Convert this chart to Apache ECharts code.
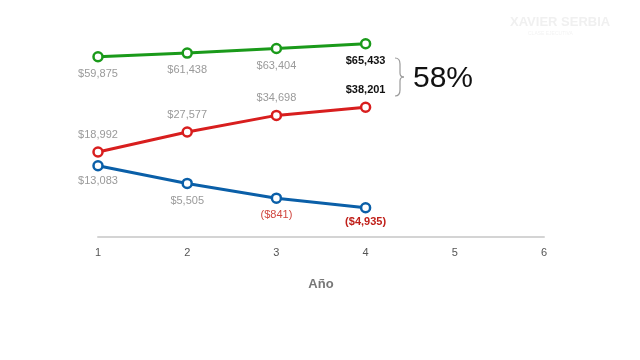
<!DOCTYPE html>
<html><head><meta charset="utf-8">
<script src="https://cdn.jsdelivr.net/npm/echarts@6/dist/echarts.min.js"></script>
<style>html,body{margin:0;padding:0;background:#fff}#c{width:640px;height:360px}</style>
</head><body><div id="c"></div>
<script>
const years = [1, 2, 3, 4];
const xTicks = [1, 2, 3, 4, 5, 6];
const greenVals = [59875, 61438, 63404, 65433];
const redVals = [18992, 27577, 34698, 38201];
const blueVals = [13083, 5505, -841, -4935];
const pctLabel = '58%';
const axisName = 'Año';

function fmt(v){
  const s = '$' + Math.abs(v).toLocaleString('en-US');
  return v < 0 ? '(' + s + ')' : s;
}
const FONT = 'Liberation Sans, Arial, sans-serif';
function mk(vals, pos, offs, last) {
  return vals.map((v, i) => {
    const isLast = i === vals.length - 1;
    let lc = '#9a9a9a', fw = 'normal';
    if (v < 0) lc = '#d0463f';
    if (isLast) { lc = last; fw = 'bold'; }
    return {
      value: [years[i], v],
      label: {show: true, position: pos, distance: offs[i], color: lc, fontWeight: fw,
              fontSize: 11, fontFamily: FONT, formatter: () => fmt(v)}
    };
  });
}
const chart = echarts.init(document.getElementById('c'), null, {renderer: 'canvas'});
function series(name, vals, color, pos, offs, last) {
  return {
    name, type: 'line', data: mk(vals, pos, offs, last),
    symbol: 'circle', symbolSize: 9,
    itemStyle: {color: '#fff', borderColor: color, borderWidth: 2.5},
    lineStyle: {color: color, width: 3},
    z: 3
  };
}
const br = {stroke: '#999', lineWidth: 1.2, fill: null};
chart.setOption({
  animation: false,
  backgroundColor: '#fff',
  grid: {left: 98, right: 96, top: 21.5, bottom: 123},
  xAxis: {
    type: 'value', min: 1, max: 6, interval: 1,
    axisLine: {show: true, onZero: false, lineStyle: {color: '#d4d4d4', width: 2}},
    axisTick: {show: false}, splitLine: {show: false},
    axisLabel: {color: '#555', fontSize: 11, fontFamily: FONT, margin: 10,
                formatter: v => xTicks.includes(v) ? String(v) : ''},
    name: axisName, nameLocation: 'middle', nameGap: 41,
    nameTextStyle: {color: '#777', fontSize: 13, fontWeight: 'bold', fontFamily: FONT}
  },
  yAxis: {
    type: 'value', min: -17500, max: 75000, show: false,
    splitLine: {show: false}
  },
  series: [
    series('green', greenVals, '#1a9a1a', 'bottom', [6, 6, 6, 6], '#111'),
    series('red', redVals, '#d81e1e', 'top', [6, 6, 6, 6], '#111'),
    series('blue', blueVals, '#0a5fa8', 'bottom', [4, 6, 6, 3], '#c0201a')
  ],
  graphic: [
    {type: 'bezierCurve', shape: {x1: 395, y1: 58, cpx1: 400, cpy1: 58, x2: 400, y2: 64}, style: br},
    {type: 'line', shape: {x1: 400, y1: 64, x2: 400, y2: 73}, style: br},
    {type: 'bezierCurve', shape: {x1: 400, y1: 73, cpx1: 400, cpy1: 77, x2: 404, y2: 77}, style: br},
    {type: 'bezierCurve', shape: {x1: 404, y1: 77, cpx1: 400, cpy1: 77, x2: 400, y2: 81}, style: br},
    {type: 'line', shape: {x1: 400, y1: 81, x2: 400, y2: 90}, style: br},
    {type: 'bezierCurve', shape: {x1: 400, y1: 90, cpx1: 400, cpy1: 96, x2: 395, y2: 96}, style: br},
    {type: 'text', left: 413, top: 64, style: {text: pctLabel, fill: '#111', font: '30px ' + FONT}},
    {type: 'text', left: 510, top: 16, style: {text: 'XAVIER SERBIA', fill: '#f0f0f0', font: 'bold 13px ' + FONT}},
    {type: 'text', left: 528, top: 31, style: {text: 'CLASE EJECUTIVA', fill: '#f3f3f3', font: '5px ' + FONT}}
  ]
});
</script></body></html>
